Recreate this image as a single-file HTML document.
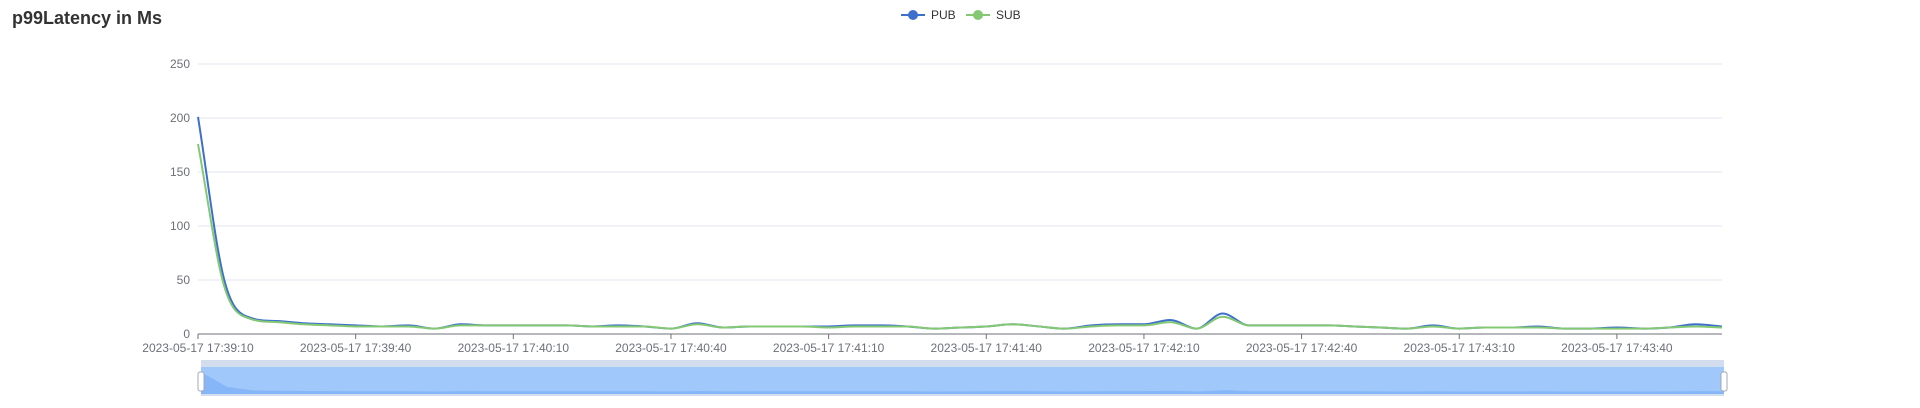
<!DOCTYPE html>
<html><head><meta charset="utf-8"><style>
body{margin:0;background:#fff;width:1920px;height:403px;overflow:hidden;font-family:"Liberation Sans",sans-serif}
svg text{font-family:"Liberation Sans",sans-serif}
</style></head><body>
<svg id="c" width="1920" height="403">
<text x="12" y="24" font-size="18" font-weight="bold" fill="#333">p99Latency in Ms</text>
<g>
<g><line x1="901" y1="15" x2="925" y2="15" stroke="#3d6fcc" stroke-width="2"/><circle cx="913" cy="15" r="5" fill="#3d6fcc"/><text x="931" y="19" font-size="12" fill="#333">PUB</text></g>
<g><line x1="966" y1="15" x2="990" y2="15" stroke="#84c874" stroke-width="2"/><circle cx="978" cy="15" r="5" fill="#84c874"/><text x="996" y="19" font-size="12" fill="#333">SUB</text></g>
</g>
<g id="grid"></g><g id="series"></g><g id="xaxis"></g><g id="slider"></g>
</svg>
<script>
const yTicks=[0,50,100,150,200,250];
const xTickLabels=["2023-05-17 17:39:10","2023-05-17 17:39:40","2023-05-17 17:40:10","2023-05-17 17:40:40","2023-05-17 17:41:10","2023-05-17 17:41:40","2023-05-17 17:42:10","2023-05-17 17:42:40","2023-05-17 17:43:10","2023-05-17 17:43:40"];
const xTickSeconds=[0,30,60,90,120,150,180,210,240,270];
const seconds=[0,5,10,15,20,25,30,35,40,45,50,55,60,65,70,75,80,85,90,95,100,105,110,115,120,125,130,135,140,145,150,155,160,165,170,175,180,185,190,195,200,205,210,215,220,225,230,235,240,245,250,255,260,265,270,275,280,285,290];
const pub=[201,50,15,12,10,9,8,7,8,5,9,8,8,8,8,7,8,7,5,10,6,7,7,7,7,8,8,7,5,6,7,9,7,5,8,9,9,13,5,19,8,8,8,8,7,6,5,8,5,6,6,7,5,5,6,5,6,9,7];
const sub=[176,44,14,11,9,8,7,7,7,5,8,8,8,8,8,7,7,7,5,9,6,7,7,7,6,7,7,7,5,6,7,9,7,5,7,8,8,11,5,16,8,8,8,8,7,6,5,7,5,6,6,6,5,5,5,5,6,7,6];
const NS="http://www.w3.org/2000/svg";
const X0=198,X1=1722,Y0=334,Y1=64,TMAX=290;
const xs=s=>X0+(X1-X0)*s/TMAX;
const ys=v=>Y0-(Y0-Y1)*v/250;
function mk(tag,attrs,parent){const e=document.createElementNS(NS,tag);for(const k in attrs)e.setAttribute(k,attrs[k]);parent.appendChild(e);return e;}
const grid=document.getElementById('grid');
yTicks.forEach(t=>{
 if(t>0){const l=mk('line',{x1:X0,x2:X1,y1:ys(t),y2:ys(t),stroke:'#e0e6f1'},grid);
 
 }
 const tx=mk('text',{x:190,y:ys(t)+4,'font-size':12,fill:'#6e7079','text-anchor':'end'},grid);tx.textContent=t;
 
 
});
const xa=document.getElementById('xaxis');
const ax=mk('line',{x1:X0,x2:X1,y1:Y0,y2:Y0,stroke:'#6e7079'},xa);


xTickSeconds.forEach((s,i)=>{
 mk('line',{x1:xs(s),x2:xs(s),y1:Y0,y2:Y0+5,stroke:'#6e7079'},xa);
 const t=mk('text',{x:xs(s),y:Y0+18,'font-size':12,fill:'#6e7079','text-anchor':'middle'},xa);t.textContent=xTickLabels[i];
 
 
});
function smoothPath(px,py){
 const n=px.length,dl=[],m=[];
 for(let i=0;i<n-1;i++)dl.push((py[i+1]-py[i])/(px[i+1]-px[i]));
 m[0]=dl[0];m[n-1]=dl[n-2];
 for(let i=1;i<n-1;i++){m[i]=(dl[i-1]*dl[i]<=0)?0:(dl[i-1]+dl[i])/2;}
 for(let i=0;i<n-1;i++){if(dl[i]===0){m[i]=0;m[i+1]=0;continue;}
  const a=m[i]/dl[i],b=m[i+1]/dl[i],s=a*a+b*b;if(s>9){const t=3/Math.sqrt(s);m[i]=t*a*dl[i];m[i+1]=t*b*dl[i];}}
 let d='M'+px[0]+','+py[0];
 for(let i=0;i<n-1;i++){const h=(px[i+1]-px[i])/3;
  d+=' C'+(px[i]+h)+','+(py[i]+m[i]*h)+' '+(px[i+1]-h)+','+(py[i+1]-m[i+1]*h)+' '+px[i+1]+','+py[i+1];}
 return d;
}
const sg=document.getElementById('series');
const p1=mk('path',{d:smoothPath(seconds.map(xs),pub.map(ys)),fill:'none',stroke:'#3d6fcc','stroke-width':2},sg);


const p2=mk('path',{d:smoothPath(seconds.map(xs),sub.map(ys)),fill:'none',stroke:'#84c874','stroke-width':2},sg);


const sl=document.getElementById('slider');
const SX0=201,SX1=1724,SY0=360,SY1=396;
const bg=mk('rect',{x:SX0,y:SY0,width:SX1-SX0,height:SY1-SY0,fill:'#d2deee'},sl);


mk('rect',{x:SX0,y:367,width:SX1-SX0,height:27,fill:'#a0c8fa'},sl);
const sx=s=>SX0+(SX1-SX0)*s/TMAX, sy=v=>392-v/201*20;
let d='M'+SX0+',394';
seconds.forEach((s,i)=>{d+=' L'+sx(s)+','+sy(pub[i]);});
d+=' L'+SX1+',394 Z';
const sh=mk('path',{d:d,fill:'#86b6f8'},sl);


[SX0,SX1].forEach((x,i)=>{
 const h=mk('rect',{x:x-3,y:372,width:6,height:19,rx:2,fill:'#fff',stroke:'#a0a8b8'},sl);
 
 
});
</script>
</body></html>
